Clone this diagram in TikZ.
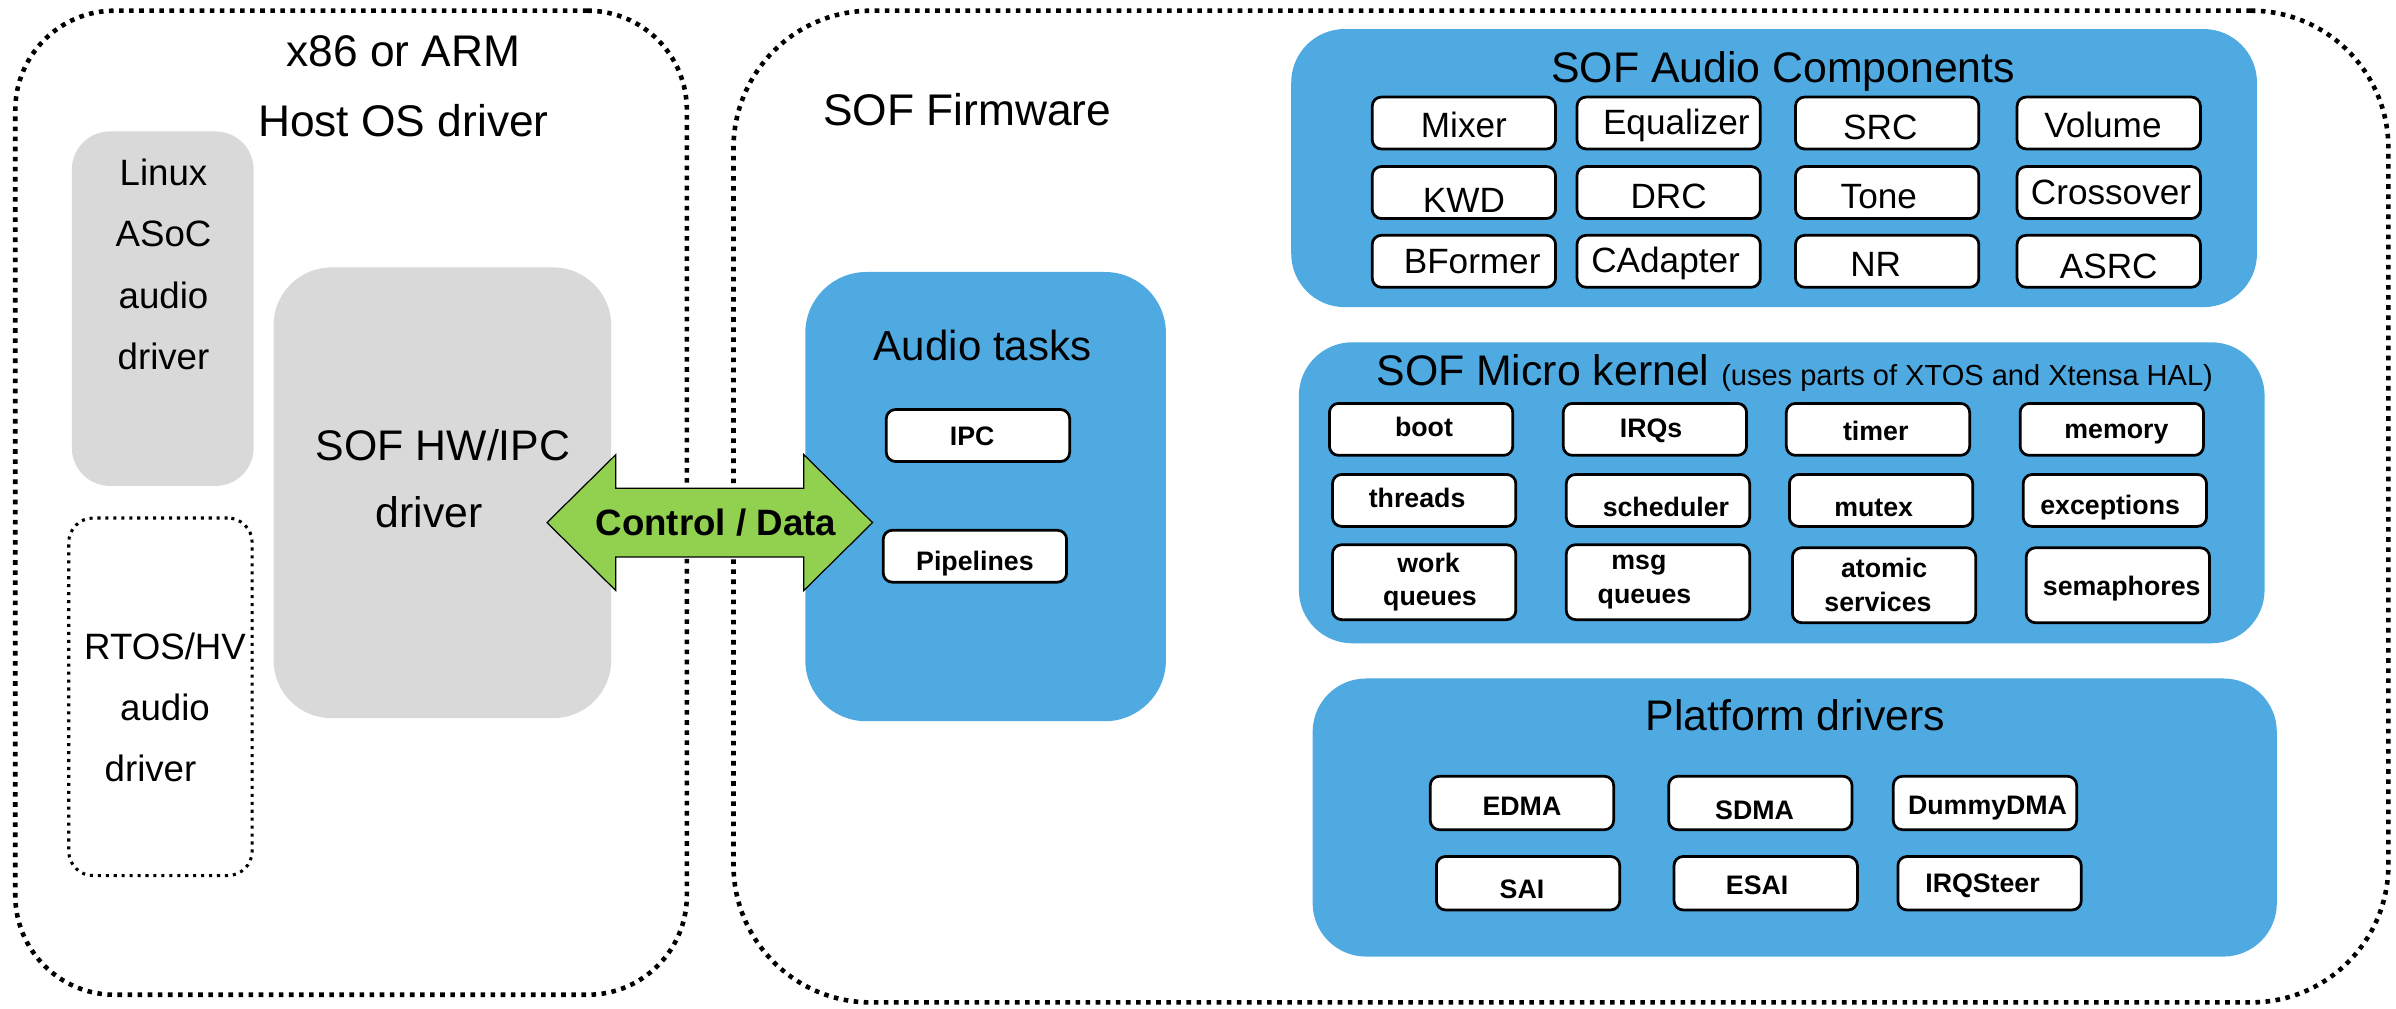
\documentclass[tikz,border=0pt]{standalone}
\usepackage{fontspec}
\setmainfont{Liberation Sans}
\definecolor{sofblue}{RGB}{79,170,226}
\definecolor{sofgray}{RGB}{217,217,217}
\definecolor{sofgreen}{RGB}{146,208,80}
\newcommand{\fsz}[2]{\fontsize{#1}{#2}\selectfont}
% shift a label inside its box: #1 right, #2 down
\newcommand{\mv}[3]{\raisebox{-#2}[\height][\depth]{\hspace*{#1}#3\hspace*{-#1}}}
\tikzset{
  outerbox/.style={draw, line width=3pt, dash pattern=on 3pt off 3.6pt, inner sep=0pt},
  rtosbox/.style={draw, line width=2pt, dash pattern=on 2pt off 3.2pt, rounded corners=16pt, inner sep=0pt},
  graybox/.style={fill=sofgray, inner sep=0pt},
  bluebox/.style={fill=sofblue, inner sep=0pt, rounded corners=35pt},
  compbox/.style={draw, fill=white, line width=1.8pt, rounded corners=6pt, minimum width=120pt, minimum height=34pt, inner sep=0pt, text height=16.5pt, text depth=0pt, font=\fsz{23}{23}},
  kbox/.style={draw, fill=white, line width=1.8pt, rounded corners=6pt, minimum width=120pt, minimum height=34pt, inner sep=0pt, text height=12.6pt, text depth=0pt, font=\bfseries\fsz{17.5}{22}},
  kbox2/.style={draw, fill=white, line width=1.8pt, rounded corners=6pt, minimum width=120pt, minimum height=49pt, inner sep=0pt, align=center, font=\bfseries\fsz{17.5}{22}},
  bigtext/.style={inner sep=0pt, font=\fsz{29}{46}, align=center},
  midtext/.style={inner sep=0pt, font=\fsz{24}{40}, align=center},
  titletext/.style={inner sep=0pt, font=\fsz{28}{28}}
}
\begin{document}
\begin{tikzpicture}[x=1pt,y=-1pt]
\useasboundingbox (0,0) rectangle (1568,660);
% outer containers
\node[outerbox, rounded corners=65pt, minimum width=439.5pt, minimum height=644pt] (host) at (229.75,329) {};
\node[outerbox, rounded corners=90pt, minimum width=1083pt, minimum height=649pt] (fw) at (1021.5,331.5) {};
\node[bigtext, anchor=north] (hosttitle) at (264,23) {x86 or ARM\\Host OS driver};
\node[bigtext, anchor=base] (fwtitle) at (633,82) {SOF Firmware};
% host side
\node[graybox, rounded corners=25pt, minimum width=119pt, minimum height=232pt] (linux) at (106.5,202) {};
\node[midtext, anchor=north] (linuxtxt) at (107,104) {Linux\\ASoC\\audio\\driver};
\node[graybox, rounded corners=38pt, minimum width=221pt, minimum height=295pt] (hwipc) at (289.5,322.5) {};
\node[inner sep=0pt, font=\fsz{28}{44}, align=center, anchor=north] (hwipctxt) at (290,281) {SOF HW/IPC\\driver\hspace*{18pt}};
\node[rtosbox, minimum width=120pt, minimum height=234pt] (rtos) at (105,456) {};
\node[midtext, anchor=north] (rtostxt) at (108,414) {RTOS/HV\\audio\hspace*{17pt}\\driver\hspace*{19pt}};
% audio tasks
\node[bluebox, rounded corners=40pt, minimum width=236pt, minimum height=294pt] (tasks) at (645,325) {};
\node[inner sep=0pt, font=\fsz{27.5}{27.5}, anchor=base] (taskstxt) at (643,236) {Audio tasks};
\node[kbox] (ipc) at (640,285) {\mv{-3.8pt}{0pt}{IPC}};
\node[kbox] (pipe) at (638,364) {\mv{0pt}{3pt}{Pipelines}};
% audio components
\node[bluebox, minimum width=632pt, minimum height=182pt] (comp) at (1161,110) {};
\node[titletext, anchor=base] (comptitle) at (1167,54) {SOF Audio Components};
\node[compbox] (mixer) at (958,80.5) {\mv{0pt}{1.5pt}{Mixer}};
\node[compbox] (eq) at (1092,80.5) {\mv{5pt}{-1pt}{Equalizer}};
\node[compbox] (src) at (1235,80.5) {\mv{-4.5pt}{2.8pt}{SRC}};
\node[compbox] (vol) at (1380,80.5) {\mv{-3.8pt}{1.5pt}{Volume}};
\node[compbox] (kwd) at (958,126) {\mv{0pt}{5pt}{KWD}};
\node[compbox] (drc) at (1092,126) {\mv{0pt}{2pt}{DRC}};
\node[compbox] (tone) at (1235,126) {\mv{-5.5pt}{2pt}{Tone}};
\node[compbox] (xover) at (1380,126) {\mv{1.5pt}{-0.5pt}{Crossover}};
\node[compbox] (bf) at (958,171) {\mv{5.4pt}{0pt}{BFormer}};
\node[compbox] (cad) at (1092,171) {\mv{-2pt}{-1pt}{CAdapter}};
\node[compbox] (nr) at (1235,171) {\mv{-7.5pt}{1.7pt}{NR}};
\node[compbox] (asrc) at (1380,171) {\mv{0pt}{3.3pt}{ASRC}};
% micro kernel
\node[bluebox, minimum width=632pt, minimum height=197pt] (kern) at (1166,322.5) {};
\node[inner sep=0pt, anchor=base] (kerntitle) at (1174.5,252) {\fsz{28}{28}SOF Micro kernel \fsz{19}{19}(uses parts of XTOS and Xtensa HAL)};
\node[kbox] (boot) at (930,281) {\mv{1.9pt}{-1.5pt}{boot}};
\node[kbox] (irq) at (1083,281) {\mv{-2.5pt}{-1pt}{IRQs}};
\node[kbox] (timer) at (1229,281) {\mv{-1.5pt}{1pt}{timer}};
\node[kbox] (mem) at (1382,281) {\mv{3pt}{-0.5pt}{memory}};
\node[kbox] (thr) at (932,327.5) {\mv{-4.6pt}{-1.9pt}{threads}};
\node[kbox] (sched) at (1085,327.5) {\mv{5.2pt}{4.5pt}{scheduler}};
\node[kbox] (mutex) at (1231,327.5) {\mv{-4.8pt}{4.5pt}{mutex}};
\node[kbox] (exc) at (1384,327.5) {\mv{-3.1pt}{3pt}{exceptions}};
\node[kbox2] (wq) at (932,381) {\mv{2.9pt}{0pt}{work}\\\mv{3.8pt}{0pt}{queues}};
\node[kbox2] (mq) at (1085,381) {\mv{-12.5pt}{0pt}{msg}\\\mv{-8.8pt}{0pt}{queues}};
\node[kbox2] (atom) at (1233,383) {atomic\\\mv{-4pt}{0pt}{services}};
\node[kbox2] (sem) at (1386,383) {\mv{2.5pt}{2pt}{semaphores}};
% platform drivers
\node[bluebox, minimum width=631pt, minimum height=182pt] (plat) at (1174.5,535) {};
\node[titletext, anchor=base] (plattitle) at (1175,478) {Platform drivers};
\node[kbox, minimum height=35pt] (edma) at (996,525.5) {\mv{0pt}{2.2pt}{EDMA}};
\node[kbox, minimum height=35pt] (sdma) at (1152,525.5) {\mv{-3.8pt}{4.4pt}{SDMA}};
\node[kbox, minimum height=35pt] (dummy) at (1299,525.5) {\mv{1.7pt}{1pt}{DummyDMA}};
\node[kbox, minimum height=35pt] (sai) at (1000,578) {\mv{-4pt}{3.5pt}{SAI}};
\node[kbox, minimum height=35pt] (esai) at (1155.5,578) {\mv{-5.6pt}{1.3pt}{ESAI}};
\node[kbox, minimum height=35pt] (irqs) at (1302,578) {\mv{-4.6pt}{0pt}{IRQSteer}};
% control / data arrow
\coordinate (cd) at (464.5,342);
\begin{scope}[shift={(cd)}]
\draw[fill=sofgreen, line width=0.8pt, line join=miter]
  (-106.5,0) -- (-61.5,-44.5) -- (-61.5,-22.5) -- (61.5,-22.5) -- (61.5,-44.5)
  -- (106.5,0) -- (61.5,44.5) -- (61.5,22.5) -- (-61.5,22.5) -- (-61.5,44.5) -- cycle;
\end{scope}
\node[inner sep=0pt, font=\bfseries\fsz{24}{24}] (cdtxt) at ([xshift=4pt]cd) {Control / Data};
\end{tikzpicture}
\end{document}
